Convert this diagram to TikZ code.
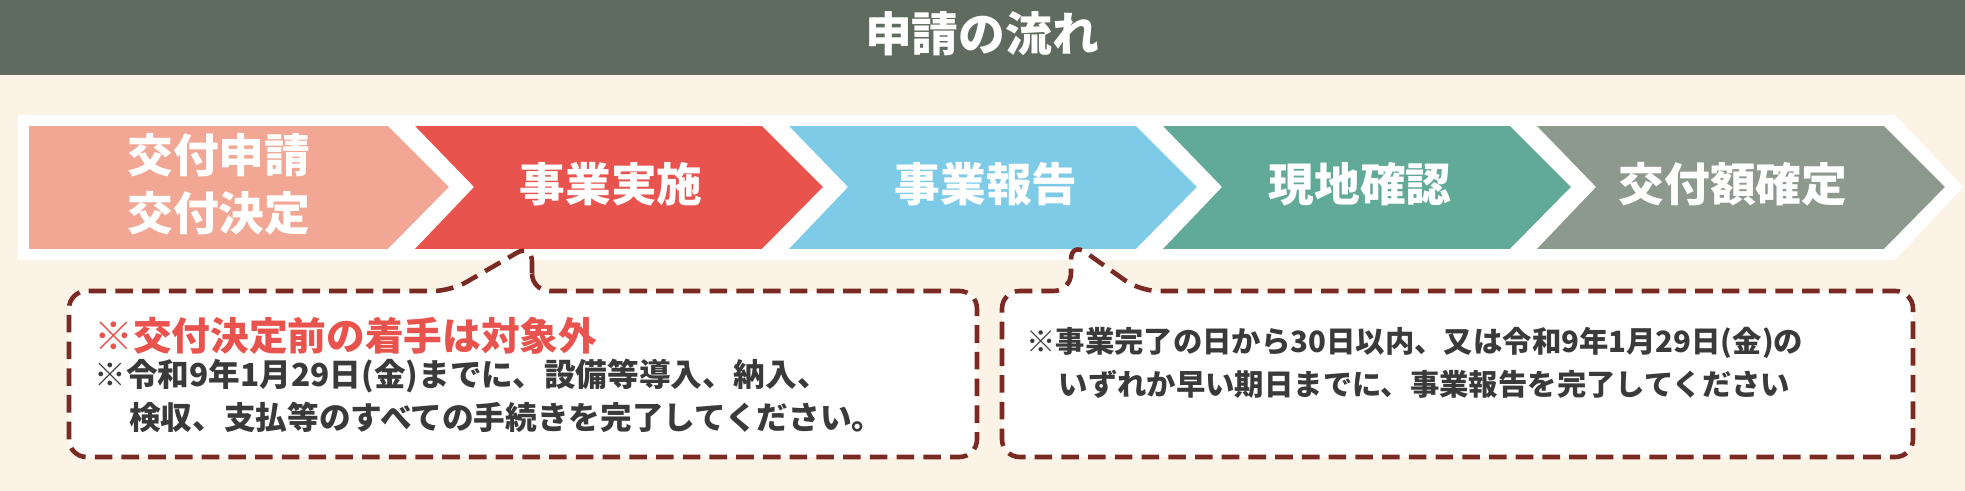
\documentclass[tikz,border=0pt]{standalone}
\usepackage{fontspec}
\setmainfont{Noto Sans CJK JP}
\definecolor{headgray}{HTML}{5E6B5E}
\definecolor{cream}{HTML}{FBF4E6}
\definecolor{salmon}{HTML}{F2A794}
\definecolor{redstep}{HTML}{E9534E}
\definecolor{bluestep}{HTML}{7ECBE8}
\definecolor{tealstep}{HTML}{62AA98}
\definecolor{graystep}{HTML}{8E998E}
\definecolor{darkred}{HTML}{7A2A22}
\definecolor{textgray}{HTML}{3A3A3A}
\begin{document}
\begin{tikzpicture}[x=0.01cm, y=-0.01cm,
    chevron/.style={draw=white, line width=1.6pt, line join=miter},
    steplabel/.style={text=white, font=\fontsize{13}{16.5}\selectfont\bfseries, align=center},
    callout/.style={draw=darkred, line width=1.3pt, dash pattern=on 5pt off 2.6pt, fill=white, rounded corners=5pt},
    warn/.style={text=redstep, font=\fontsize{11}{12}\selectfont\bfseries, anchor=west},
    note/.style={text=textgray, font=\fontsize{9}{12.3}\selectfont\bfseries, anchor=west, align=left},
    note2/.style={note, font=\fontsize{8.35}{12.3}\selectfont\bfseries}
  ]
  \useasboundingbox (0,0) rectangle (1965,491);
  % background and header
  \fill[cream] (0,0) rectangle (1965,491);
  \fill[headgray] (0,0) rectangle (1965,75);
  \node[text=white, font=\fontsize{13.3}{15}\selectfont\bfseries] (title) at (982,34) {申請の流れ};

  % steps
  \fill[white] (18,115) -- (1895,115) -- (1963,187) -- (1895,260) -- (18,260) -- cycle;
  \foreach \c [count=\i] in {salmon,redstep,bluestep,tealstep,graystep} {
    \pgfmathsetmacro{\L}{34+374*(\i-1)}
    \ifnum\i=1
      \filldraw[chevron, fill=\c] (26,123) -- (\L+355,123) -- (\L+419,187) -- (\L+355,252) -- (26,252) -- cycle;
    \else
      \filldraw[chevron, fill=\c] (\L,123) -- (\L+355,123) -- (\L+419,187) -- (\L+355,252) -- (\L,252) -- (\L+62,187) -- cycle;
    \fi
  }
  \node[steplabel] (s1) at (219,184) {交付申請\\交付決定};
  \node[steplabel] (s2) at (611,184) {事業実施};
  \node[steplabel] (s3) at (986,184) {事業報告};
  \node[steplabel] (s4) at (1360,184) {現地確認};
  \node[steplabel] (s5) at (1733,184) {交付額確定};

  % callout boxes
  \coordinate (p1) at (532,244);
  \coordinate (p2) at (1071,242);
  \draw[callout] (532,291) -- (p1) -- (451,291) -- (69,291) -- (69,457) -- (977,457) -- (977,291) -- cycle;
  \draw[callout] (1140,291) -- (p2) -- (1071,291) -- (1002,291) -- (1002,457) -- (1913,457) -- (1913,291) -- cycle;

  \node[warn] (w1) at (82,336) {※交付決定前の着手は対象外};
  \node[note] (n1) at (82,396) {※令和9年1月29日(金)までに、設備等導入、納入、\\\hspace*{1.1em}検収、支払等のすべての手続きを完了してください。};
  \node[note2] (n2) at (1014,363) {※事業完了の日から30日以内、又は令和9年1月29日(金)の\\\hspace*{1.1em}いずれか早い期日までに、事業報告を完了してください};
\end{tikzpicture}
\end{document}
